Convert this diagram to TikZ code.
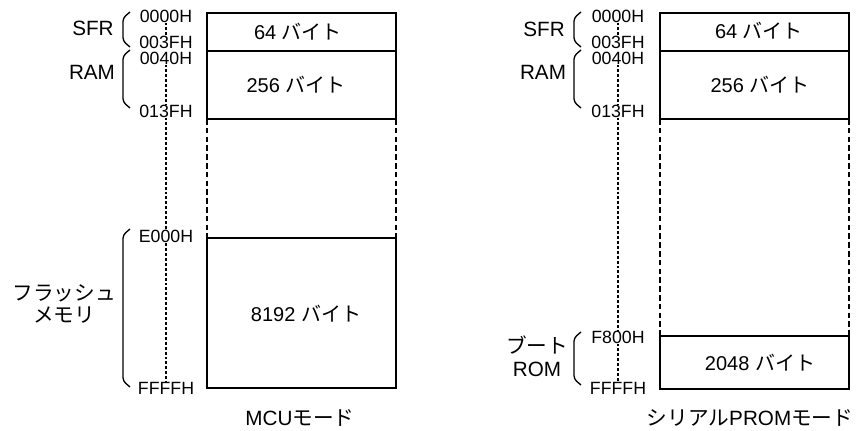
\documentclass[tikz,border=0pt]{standalone}
\usepackage{fontspec}
\setmainfont{Liberation Sans}
\newfontfamily\jp{Noto Sans CJK JP}

\tikzset{
  addr/.style={font=\fontsize{13.3}{13.3}\selectfont, inner sep=0pt},
  memlbl/.style={font=\fontsize{15.5}{17}\selectfont, inner sep=0pt, align=center},
  sizelbl/.style={font=\fontsize{15}{15}\selectfont, inner sep=0pt},
  membox/.style={draw, line width=1.2pt},
  sideline/.style={line width=1pt, dash pattern=on 4.2pt off 2.4pt},
  addrline/.style={line width=1pt, dash pattern=on 2.2pt off 1.5pt},
  memrange/.style={line width=1pt, rounded corners=2.5pt}
}

\begin{document}
\begin{tikzpicture}[x=0.75pt, y=-0.75pt]
\useasboundingbox (0,0) rectangle (862,431);

% MCU mode
\coordinate (mTL) at (207, 13);
\coordinate (mSR) at (396, 51);
\coordinate (mSL) at (207, 51);
\coordinate (mRR) at (396, 119);
\coordinate (mRL) at (207, 119);
\coordinate (mFL) at (207, 238);
\coordinate (mFR) at (396, 238);
\coordinate (mBR) at (396, 388);
\draw[membox] (mTL) rectangle (mSR);
\draw[membox] (mSL) rectangle (mRR);
\draw[membox] (mFL) rectangle (mBR);
\draw[sideline] (mRL)--(mFL);
\draw[sideline] (mRR)--(mFR);
\node[sizelbl] (mSize1) at (298, 31.5) {64 {\jp バイト}};
\node[sizelbl] (mSize2) at (296, 85) {256 {\jp バイト}};
\node[sizelbl] (mSize3) at (306, 314) {8192 {\jp バイト}};

\node[addr] (mA0) at (166, 16) {0000H};
\node[addr] (mA1) at (166, 42) {003FH};
\node[addr] (mA2) at (166, 58) {0040H};
\node[addr] (mA3) at (166, 111) {013FH};
\node[addr] (mA4) at (166, 236.5) {E000H};
\node[addr] (mA5) at (166, 388.5) {FFFFH};
\draw[addrline] (mA0.south)--(mA1.north);
\draw[addrline] (mA2.south)--(mA3.north);
\draw[addrline] (mA3.south)--(mA4.north);
\draw[addrline] (mA4.south)--(mA5.north);

\coordinate (mB0) at (130, 12);
\coordinate (mB1) at (130, 47);
\coordinate (mB2) at (130, 50);
\coordinate (mB3) at (130, 108);
\coordinate (mB4) at (130, 229);
\coordinate (mB5) at (130, 387);
\draw[memrange] (mB0)--([shift={(-7,6)}]mB0)--([shift={(-7,-6)}]mB1)--(mB1);
\draw[memrange] (mB2)--([shift={(-7,6)}]mB2)--([shift={(-7,-6)}]mB3)--(mB3);
\draw[memrange] (mB4)--([shift={(-7,6)}]mB4)--([shift={(-7,-6)}]mB5)--(mB5);
\node[memlbl] (mSFR) at (93, 28.5) {SFR};
\node[memlbl] (mRAM) at (92, 72.5) {RAM};
\node[memlbl] (mFlash) at (64, 304) {{\jp フラッシュ}\\{\jp メモリ}};
\node[memlbl] (mTitle) at (300, 418) {MCU{\jp モード}};

% serial PROM mode
\coordinate (sTL) at (660, 13);
\coordinate (sSR) at (849, 51);
\coordinate (sSL) at (660, 51);
\coordinate (sRR) at (849, 119);
\coordinate (sRL) at (660, 119);
\coordinate (sOL) at (660, 336);
\coordinate (sOR) at (849, 336);
\coordinate (sBR) at (849, 389);
\draw[membox] (sTL) rectangle (sSR);
\draw[membox] (sSL) rectangle (sRR);
\draw[membox] (sOL) rectangle (sBR);
\draw[sideline] (sRL)--(sOL);
\draw[sideline] (sRR)--(sOR);
\node[sizelbl] (sSize1) at (759, 31) {64 {\jp バイト}};
\node[sizelbl] (sSize2) at (760, 85) {256 {\jp バイト}};
\node[sizelbl] (sSize3) at (760, 362.5) {2048 {\jp バイト}};

\node[addr] (sA0) at (618, 16) {0000H};
\node[addr] (sA1) at (618, 42) {003FH};
\node[addr] (sA2) at (618, 58) {0040H};
\node[addr] (sA3) at (618, 111) {013FH};
\node[addr] (sA4) at (618, 337) {F800H};
\node[addr] (sA5) at (618, 388.5) {FFFFH};
\draw[addrline] (sA0.south)--(sA1.north);
\draw[addrline] (sA2.south)--(sA3.north);
\draw[addrline] (sA3.south)--(sA4.north);
\draw[addrline] (sA4.south)--(sA5.north);

\coordinate (sB0) at (581, 12);
\coordinate (sB1) at (581, 47);
\coordinate (sB2) at (581, 50);
\coordinate (sB3) at (581, 108);
\coordinate (sB4) at (581, 332);
\coordinate (sB5) at (581, 385);
\draw[memrange] (sB0)--([shift={(-7,6)}]sB0)--([shift={(-7,-6)}]sB1)--(sB1);
\draw[memrange] (sB2)--([shift={(-7,6)}]sB2)--([shift={(-7,-6)}]sB3)--(sB3);
\draw[memrange] (sB4)--([shift={(-7,6)}]sB4)--([shift={(-7,-6)}]sB5)--(sB5);
\node[memlbl] (sSFR) at (544, 29) {SFR};
\node[memlbl] (sRAM) at (543, 72.5) {RAM};
\node[memlbl] (sBoot) at (537, 356) {{\jp ブート}\\ROM};
\node[memlbl] (sTitle) at (750, 418) {{\jp シリアル}PROM{\jp モード}};
\end{tikzpicture}
\end{document}
